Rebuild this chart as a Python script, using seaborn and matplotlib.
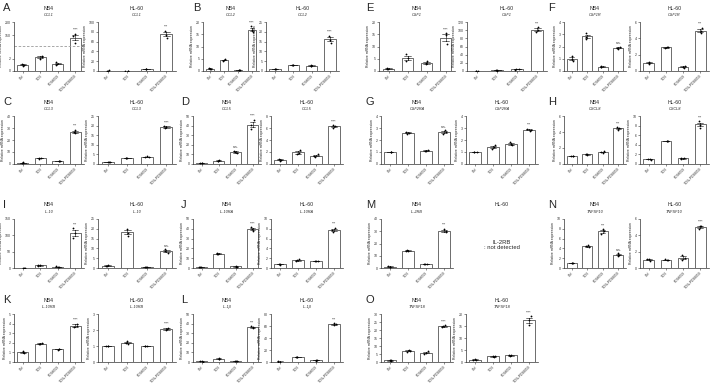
import numpy as np
import pandas as pd
import matplotlib
matplotlib.use("Agg")
import matplotlib.pyplot as plt
import seaborn as sns

sns.set_theme(style="ticks")
plt.rcParams['font.family'] = ['Liberation Sans', 'DejaVu Sans']

# ---------------- data ----------------
groups = ["Ctrl", "TCN", "PD98059", "TCN+PD98059"]

CCL1_NB4 = [[0.85, 1.0, 1.15], [1.9, 2.3, 2.5], [1.0, 1.2, 1.4], [120, 145, 155]]
CCL1_HL60 = [[0.6, 0.9, 1.1], [0.5, 0.8, 1.0], [3.5, 4.2, 4.8], [68, 74, 82]]
CCL2_NB4 = [[0.9, 1.0, 1.1], [4.2, 4.5, 4.8], [0.3, 0.45, 0.6], [15.8, 16.8, 18.2]]
CCL2_HL60 = [[0.8, 1.0, 1.2], [2.9, 3.1, 3.3], [2.7, 2.8, 2.9], [14.5, 16.0, 18.0]]
CSF1_NB4 = [[0.8, 1.0, 1.2], [4.2, 5.3, 6.8], [2.8, 3.3, 4.0], [11.0, 14.5, 15.5]]
CSF1_HL60 = [[0.3, 0.5, 0.7], [1.2, 1.8, 2.1], [3.5, 4.0, 4.6], [95, 100, 108]]
CSF1R_NB4 = [[0.8, 1.0, 1.2], [2.6, 2.8, 3.1], [0.3, 0.35, 0.4], [1.8, 1.9, 2.0]]
CSF1R_HL60 = [[0.9, 1.0, 1.1], [2.85, 2.9, 2.95], [0.4, 0.5, 0.65], [4.6, 4.9, 5.3]]
CCL3_NB4 = [[0.7, 1.0, 1.3], [4.5, 4.8, 5.1], [2.3, 2.6, 2.9], [25.5, 27.0, 28.5]]
CCL3_HL60 = [[0.8, 1.0, 1.2], [2.9, 3.1, 3.3], [3.4, 3.7, 4.0], [18.7, 19.2, 19.8]]
CCL5_NB4 = [[0.6, 0.8, 1.0], [3.2, 3.5, 3.8], [11.0, 12.5, 14.0], [36, 41, 46]]
CCL5_HL60 = [[0.55, 0.7, 0.85], [1.6, 1.9, 2.3], [1.2, 1.4, 1.6], [6.0, 6.3, 6.5]]
CSF2RA_NB4 = [[0.97, 1.0, 1.03], [2.5, 2.6, 2.7], [1.05, 1.1, 1.15], [2.5, 2.65, 2.8]]
CSF2RA_HL60 = [[0.97, 1.0, 1.03], [1.25, 1.4, 1.6], [1.55, 1.65, 1.8], [2.75, 2.85, 2.95]]
CXCL8_NB4 = [[0.95, 1.0, 1.05], [1.1, 1.2, 1.3], [1.4, 1.5, 1.6], [4.3, 4.45, 4.6]]
CXCL8_HL60 = [[0.9, 1.0, 1.1], [4.75, 4.8, 4.85], [1.0, 1.2, 1.35], [7.6, 8.2, 8.9]]
IL10_NB4 = [[0.8, 1.0, 1.2], [7, 8, 9], [3, 4, 5], [92, 108, 122]]
IL10_HL60 = [[0.9, 1.2, 1.5], [16.5, 18.0, 20.0], [0.4, 0.5, 0.6], [7.5, 8.5, 9.5]]
IL10RA_NB4 = [[0.6, 0.8, 1.0], [14.0, 14.6, 15.2], [1.2, 1.5, 1.9], [37.5, 39.5, 41.5]]
IL10RA_HL60 = [[0.7, 0.8, 0.9], [1.4, 1.6, 1.8], [1.35, 1.4, 1.45], [7.4, 7.8, 8.2]]
IL2RB_NB4 = [[0.6, 1.0, 1.4], [13.5, 14.0, 14.5], [3.0, 3.3, 3.6], [29.0, 30.5, 32.0]]
TNFSF10_NB4 = [[0.95, 1.0, 1.05], [4.2, 4.4, 4.7], [7.0, 7.6, 7.9], [2.5, 2.7, 3.0]]
TNFSF10_HL60 = [[0.9, 1.05, 1.1], [0.95, 1.0, 1.05], [1.0, 1.25, 1.6], [4.8, 5.1, 5.2]]
IL10RB_NB4 = [[0.9, 1.0, 1.1], [1.85, 1.9, 1.95], [1.3, 1.35, 1.4], [3.6, 3.8, 4.0]]
IL10RB_HL60 = [[0.98, 1.0, 1.02], [1.15, 1.2, 1.3], [0.97, 1.0, 1.03], [2.0, 2.05, 2.15]]
IL1B_NB4 = [[0.4, 0.6, 0.8], [3.4, 3.6, 3.8], [0.7, 0.9, 1.1], [35, 36, 37]]
IL1B_HL60 = [[0.6, 0.8, 1.0], [8.0, 8.5, 9.0], [2.5, 3.0, 3.5], [61, 63, 65]]
TNFSF18_NB4 = [[0.7, 1.0, 1.3], [6.5, 7.0, 7.5], [5.0, 5.8, 6.8], [21.8, 22.3, 23.0]]
TNFSF18_HL60 = [[0.9, 1.0, 1.1], [2.2, 2.3, 2.4], [2.5, 2.8, 3.1], [15.5, 17.5, 19.0]]

# ---------------- layout (pixels) ----------------
W, H = 716, 386
fig = plt.figure(figsize=(W / 100, H / 100), dpi=100)
np.random.seed(3)

rows = {1: (22, 71), 2: (116, 164), 3: (219, 268), 4: (314, 362)}
cols = {1: ((14, 84), (98, 176)), 2: ((193, 261), (271, 343)),
        3: ((381, 453), (466, 538)), 4: ((564, 626), (640, 709))}


def add_ax(xr, yr):
    l, r = xr
    t, b = yr
    return fig.add_axes([l / W, 1 - b / H, (r - l) / W, (b - t) / H])


def draw(ax, reps, ymax, ticks, notes, broken=False):
    df = pd.DataFrame({"group": np.repeat(groups, 3),
                       "value": np.concatenate([np.array(r, float) for r in reps])})
    sns.barplot(data=df, x="group", y="value", order=groups, errorbar="se",
                color="white", saturation=1, edgecolor="#333333", linewidth=0.5,
                width=0.62, capsize=0.35,
                err_kws={"linewidth": 0.45, "color": "#222222"}, ax=ax)
    sns.stripplot(data=df, x="group", y="value", order=groups, color="black",
                  size=1.3, jitter=0.12, ax=ax)
    if broken:
        xp = [0, 4, 110, 200]
        fp = [0, 0.5, 0.52, 1.0]
        ax.set_yscale("function", functions=(lambda y: np.interp(y, xp, fp),
                                             lambda y: np.interp(y, fp, xp)))
        ax.axhline(7, color="#9a9a9a", lw=0.6, ls=(0, (3, 2)), clip_on=False)
    ax.set_ylim(0, ymax)
    ax.set_yticks(ticks)
    ax.set_yticklabels([f"{t:g}" for t in ticks])
    ax.set_xticks(range(4))
    ax.set_xticklabels(groups, rotation=45, ha="right", rotation_mode="anchor",
                       fontsize=2.4)
    ax.set_xlabel("")
    ax.set_ylabel("Relative mRNA expression", fontsize=2.5, labelpad=1)
    ax.tick_params(axis="both", length=1.5, width=0.4, pad=0.8, labelsize=2.5,
                   colors="#333333")
    ax.tick_params(axis="x", labelsize=2.4)
    sns.despine(ax=ax)
    for s in ("left", "bottom"):
        ax.spines[s].set_linewidth(0.5)
        ax.spines[s].set_color("#333333")
    for i, txt in notes:
        vals = np.array(reps[i], float)
        top = max(vals.max(), vals.mean() + vals.std(ddof=1) / np.sqrt(3))
        ax.annotate(txt, (i, top), xytext=(0, 1.2), textcoords="offset points",
                    ha="center", va="bottom", fontsize=2.6, color="#333333")


def titles(xr, yr, cell, gene):
    cx = (xr[0] + xr[1]) / 2
    t = yr[0]
    fig.text(cx / W, 1 - (t - 14) / H, cell, fontsize=3.8, ha="center", va="center")
    if gene:
        fig.text(cx / W, 1 - (t - 7) / H, gene, fontsize=2.8, ha="center",
                 va="center", style="italic")


panels = [
    # letter, row, col, gene, NB4 data, NB4 ylim, NB4 ticks, NB4 notes,
    # HL60 data, HL60 ylim, HL60 ticks, HL60 notes
    ("A", 1, 1, "CCL1", CCL1_NB4, 200, [0, 2, 150, 200], [(3, "****")],
     CCL1_HL60, 100, [0, 20, 40, 60, 80, 100], [(3, "***")]),
    ("B", 1, 2, "CCL2", CCL2_NB4, 20, [0, 5, 10, 15, 20], [(3, "****")],
     CCL2_HL60, 25, [0, 5, 10, 15, 20, 25], [(3, "****")]),
    ("E", 1, 3, "CSF1", CSF1_NB4, 20, [0, 5, 10, 15, 20], [(3, "****")],
     CSF1_HL60, 120, [0, 20, 40, 60, 80, 100, 120], [(3, "***")]),
    ("F", 1, 4, "CSF1R", CSF1R_NB4, 4, [0, 1, 2, 3, 4], [(3, "n.s.")],
     CSF1R_HL60, 6, [0, 2, 4, 6], [(3, "***")]),
    ("C", 2, 1, "CCL3", CCL3_NB4, 40, [0, 10, 20, 30, 40], [(3, "***")],
     CCL3_HL60, 25, [0, 5, 10, 15, 20, 25], [(3, "****")]),
    ("D", 2, 2, "CCL5", CCL5_NB4, 50, [0, 10, 20, 30, 40, 50], [(2, "n.s."), (3, "****")],
     CCL5_HL60, 8, [0, 2, 4, 6, 8], [(3, "****")]),
    ("G", 2, 3, "CSF2RA", CSF2RA_NB4, 4, [0, 1, 2, 3, 4], [(3, "n.s.")],
     CSF2RA_HL60, 4, [0, 1, 2, 3, 4], [(3, "***")]),
    ("H", 2, 4, "CXCL8", CXCL8_NB4, 6, [0, 2, 4, 6], [(3, "***")],
     CXCL8_HL60, 10, [0, 2, 4, 6, 8, 10], [(3, "***")]),
    ("I", 3, 1, "IL-10", IL10_NB4, 150, [0, 50, 100, 150], [(3, "***")],
     IL10_HL60, 25, [0, 5, 10, 15, 20, 25], [(3, "n.s.")]),
    ("J", 3, 2, "IL-10RA", IL10RA_NB4, 50, [0, 10, 20, 30, 40, 50], [(3, "****")],
     IL10RA_HL60, 10, [0, 2, 4, 6, 8, 10], [(3, "***")]),
    ("M", 3, 3, "IL-2RB", IL2RB_NB4, 40, [0, 10, 20, 30, 40], [(3, "***")],
     None, None, None, None),
    ("N", 3, 4, "TNFSF10", TNFSF10_NB4, 10, [0, 2, 4, 6, 8, 10], [(2, "***"), (3, "n.s.")],
     TNFSF10_HL60, 6, [0, 2, 4, 6], [(3, "****")]),
    ("K", 4, 1, "IL-10RB", IL10RB_NB4, 5, [0, 1, 2, 3, 4, 5], [(3, "****")],
     IL10RB_HL60, 3, [0, 1, 2, 3], [(3, "****")]),
    ("L", 4, 2, "IL-1β", IL1B_NB4, 50, [0, 10, 20, 30, 40, 50], [(3, "***")],
     IL1B_HL60, 80, [0, 20, 40, 60, 80], [(3, "***")]),
    ("O", 4, 3, "TNFSF18", TNFSF18_NB4, 30, [0, 5, 10, 15, 20, 25, 30], [(3, "****")],
     TNFSF18_HL60, 20, [0, 5, 10, 15, 20], [(3, "****")]),
]

letter_x = {1: 3, 2: 181, 3: 366, 4: 548}
row1_cols = {2: ((203, 259), (266, 339)), 3: ((379, 455), (467, 547))}

for (letter, r, c, gene, nb4, nb4_max, nb4_ticks, nb4_notes,
     hl, hl_max, hl_ticks, hl_notes) in panels:
    yr = rows[r]
    xr_nb4, xr_hl = cols[c]
    if r == 1 and c in row1_cols:
        xr_nb4, xr_hl = row1_cols[c]
    lx = letter_x[c] + (12 if (r == 1 and c == 2) else 0)
    fig.text(lx / W, 1 - (yr[0] - 19) / H, letter, fontsize=8, ha="left", va="top")
    ax1 = add_ax(xr_nb4, yr)
    draw(ax1, nb4, nb4_max, nb4_ticks, nb4_notes, broken=(letter == "A"))
    titles(xr_nb4, yr, "NB4", gene)
    if hl is not None:
        ax2 = add_ax(xr_hl, yr)
        draw(ax2, hl, hl_max, hl_ticks, hl_notes)
        titles(xr_hl, yr, "HL-60", gene)
    else:
        titles(xr_hl, yr, "HL-60", None)
        cx = (xr_hl[0] + xr_hl[1]) / 2
        fig.text(cx / W, 1 - 245 / H, "IL-2RB\n: not detected", fontsize=4.2,
                 ha="center", va="center", linespacing=1.1)

fig.savefig("out.png", dpi=100)
